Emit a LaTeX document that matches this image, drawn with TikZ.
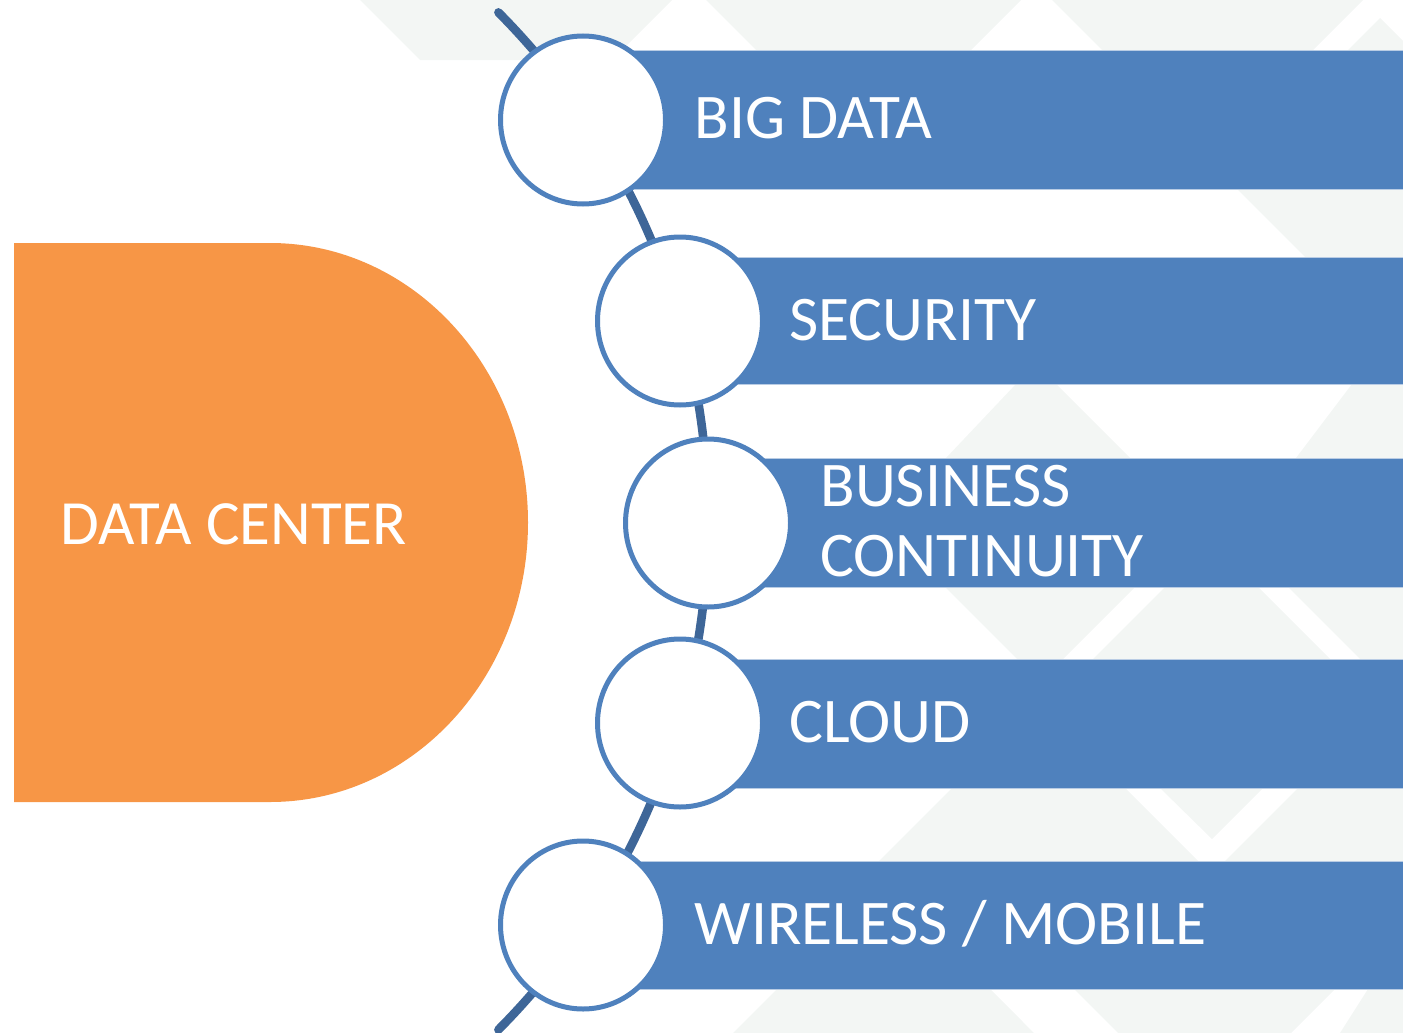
\documentclass[tikz,border=0pt]{standalone}
\usepackage{fontspec}
\setmainfont{Carlito}
\usetikzlibrary{shapes.geometric}
\definecolor{dcorange}{HTML}{F79646}
\definecolor{barblue}{HTML}{4F81BD}
\definecolor{arcblue}{HTML}{3E6698}
\definecolor{bgpat}{HTML}{F3F6F4}
\definecolor{baredge}{HTML}{B9CCE4}
\begin{document}
\begin{tikzpicture}[x=0.5pt,y=-0.5pt,
  bar/.style={fill=barblue, draw=baredge, line width=0.5pt},
  dot/.style={ellipse, draw=barblue, fill=white, line width=2.5pt, minimum width=82.5pt, minimum height=84pt, inner sep=0pt},
  lbl/.style={anchor=base west, inner sep=0pt, text=white, font=\fontsize{31.8}{36}\selectfont},
  pat/.style={fill=bgpat, draw=none}]
\useasboundingbox (0,0) rectangle (1403,1033);
% faint background pattern
\path[pat] (360,0) -- (672,0) -- (612,60) -- (420,60) -- cycle;
\path[pat] (706,0) -- (1021,0) -- (961,60) -- (766,60) -- cycle;
\path[pat] (1052,0) -- (1363,0) -- (1303,60) -- (1112,60) -- cycle;
\path[pat] (1380,18) -- (1422,60) -- (1338,60) -- cycle;
\path[pat] (1237,189) -- (1403,189) -- (1403,257) -- (1305,257) -- cycle;
\path[pat] (1016,384) -- (1056,384) -- (1130,458) -- (946,458) -- cycle;
\path[pat] (1352,384) -- (1403,384) -- (1403,458) -- (1296,458) -- cycle;
\path[pat] (945,587) -- (1135,587) -- (1063,659) -- (1017,659) -- cycle;
\path[pat] (1165,587) -- (1258,587) -- (1330,659) -- (1093,659) -- cycle;
\path[pat] (1288,587) -- (1403,587) -- (1403,659) -- (1360,659) -- cycle;
\path[pat] (952,788) -- (1125,788) -- (1198,861) -- (879,861) -- cycle;
\path[pat] (1160,788) -- (1263,788) -- (1212,839) -- cycle;
\path[pat] (1298,788) -- (1403,788) -- (1403,861) -- (1225,861) -- cycle;
\path[pat] (777,989) -- (990,989) -- (1034,1033) -- (733,1033) -- cycle;
\path[pat] (1074,989) -- (1335,989) -- (1291,1033) -- (1118,1033) -- cycle;
\path[pat] (1368,989) -- (1403,989) -- (1403,1033) -- (1340,1033) -- cycle;
% data center shape
\fill[dcorange] (14,243) -- (270,243) arc[start angle=-90, end angle=90, x radius=258, y radius=279.5] -- (14,802) -- cycle;
\node[lbl, font=\fontsize{31.5}{36}\selectfont] (dc) at (60,544) {DATA CENTER};
% bars
\path[bar] (582,50) rectangle (1410,189);
\path[bar] (680,257) rectangle (1410,384);
\path[bar] (708,458) rectangle (1410,587);
\path[bar] (680,659) rectangle (1410,788);
\path[bar] (582,861) rectangle (1410,989);
% arc
\coordinate (arctop) at (498.4,12.4);
\draw[arcblue, line width=4.3pt, line cap=round] (arctop) arc[start angle=-44.8, end angle=44.8, radius=721.9];
% circles
\node[dot] (c1) at (583,120) {};
\node[dot] (c2) at (680,321) {};
\node[dot] (c3) at (708,523) {};
\node[dot] (c4) at (680,723) {};
\node[dot] (c5) at (583,925) {};
% labels
\node[lbl] (t1) at (694,138) {BIG DATA};
\node[lbl] (t2) at (789,340) {SECURITY};
\node[lbl] (t3a) at (820,506) {BUSINESS};
\node[lbl] (t3b) at (820,576) {CONTINUITY};
\node[lbl] (t4) at (789,742) {CLOUD};
\node[lbl] (t5) at (694,944) {WIRELESS / MOBILE};
\end{tikzpicture}
\end{document}
